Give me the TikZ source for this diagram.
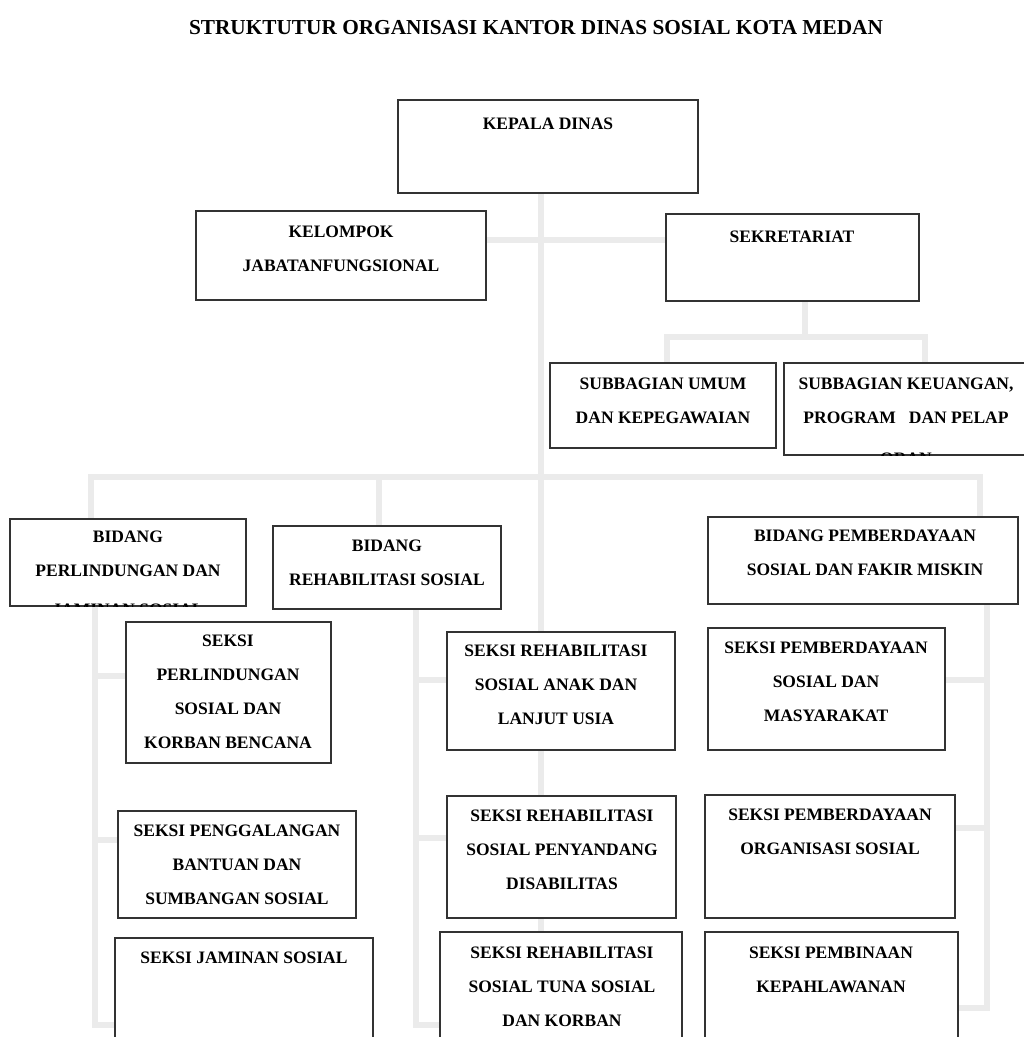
\documentclass[tikz,border=0pt]{standalone}
\usepackage{fontspec}
\setmainfont{Liberation Serif}
\usetikzlibrary{fit}
\pgfdeclarelayer{bg}
\pgfsetlayers{bg,main}
\definecolor{lnk}{HTML}{EBEBEB}
\definecolor{bx}{HTML}{333333}
\begin{document}
\begin{tikzpicture}[x=1pt,y=-1pt,
  box/.style={draw=bx, line width=1.4pt, fill=white, inner sep=0pt},
  txt/.style={font=\bfseries\fontsize{17.5}{34}\selectfont, align=center, inner sep=0pt},
  link/.style={draw=lnk, line width=5.5pt}]
\useasboundingbox (0,0) rectangle (1024,1037);
\clip (0,0) rectangle (1024,1037);

\node[font=\bfseries\fontsize{21.3}{24}\selectfont, inner sep=0pt] (title) at (536,28) {STRUKTUTUR ORGANISASI KANTOR DINAS SOSIAL KOTA MEDAN};

% boxes
\node[box, fit={(398,100) (698,193)}] (kd) {};
\node[box, fit={(196,211) (486,300)}] (kel) {};
\node[box, fit={(666,214) (919,301)}] (sek) {};
\node[box, fit={(550,363) (776,448)}] (sub1) {};
\node[box, fit={(784,363) (1034,455)}] (sub2) {};
\node[box, fit={(10,519) (246,606)}] (bp) {};
\node[box, fit={(273,526) (501,609)}] (br) {};
\node[box, fit={(708,517) (1018,604)}] (bpm) {};
\node[box, fit={(126,622) (331,763)}] (sp1) {};
\node[box, fit={(118,811) (356,918)}] (sp2) {};
\node[box, fit={(115,938) (373,1050)}] (sp3) {};
\node[box, fit={(447,632) (675,750)}] (sr1) {};
\node[box, fit={(447,796) (676,918)}] (sr2) {};
\node[box, fit={(440,932) (682,1050)}] (sr3) {};
\node[box, fit={(708,628) (945,750)}] (sm1) {};
\node[box, fit={(705,795) (955,918)}] (sm2) {};
\node[box, fit={(705,932) (958,1050)}] (sm3) {};

% texts
\node[txt] (tkd) at (548,124) {KEPALA DINAS};
\node[txt] (tkel) at (341,248.5) {KELOMPOK\\JABATANFUNGSIONAL};
\node[txt] (tsek) at (792,237) {SEKRETARIAT};
\node[txt] (tsub1) at (663,400.5) {SUBBAGIAN UMUM\\DAN KEPEGAWAIAN};
\node[txt] (tsub2) at (906,400.5) {SUBBAGIAN KEUANGAN,\\PROGRAM\ \ \ DAN PELAP};
\begin{scope}
  \clip (sub2.north west) rectangle (sub2.south east);
  \node[txt] (tsub2b) at (906,459) {ORAN};
\end{scope}
\node[txt] (tbp) at (128,554) {BIDANG\\PERLINDUNGAN DAN};
\begin{scope}
  \clip (bp.north west) rectangle (bp.south east);
  \node[txt] (tbpb) at (128,610) {JAMINAN SOSIAL};
\end{scope}
\node[txt] (tbr) at (387,562.5) {BIDANG\\REHABILITASI SOSIAL};
\node[txt] (tbpm) at (865,553) {BIDANG PEMBERDAYAAN\\SOSIAL DAN FAKIR MISKIN};
\node[txt] (tsp1) at (228,691.5) {SEKSI\\PERLINDUNGAN\\SOSIAL DAN\\KORBAN BENCANA};
\node[txt] (tsp2) at (237,864.5) {SEKSI PENGGALANGAN\\BANTUAN DAN\\SUMBANGAN SOSIAL};
\node[txt] (tsp3) at (244,958) {SEKSI JAMINAN SOSIAL};
\node[txt] (tsr1) at (556,685) {SEKSI REHABILITASI\\SOSIAL ANAK DAN\\LANJUT USIA};
\node[txt] (tsr2) at (562,849.5) {SEKSI REHABILITASI\\SOSIAL PENYANDANG\\DISABILITAS};
\node[txt] (tsr3) at (562,986.5) {SEKSI REHABILITASI\\SOSIAL TUNA SOSIAL\\DAN KORBAN};
\node[txt] (tsm1) at (826,682) {SEKSI PEMBERDAYAAN\\SOSIAL DAN\\MASYARAKAT};
\node[txt] (tsm2) at (830,831.5) {SEKSI PEMBERDAYAAN\\ORGANISASI SOSIAL};
\node[txt] (tsm3) at (831,969.5) {SEKSI PEMBINAAN\\KEPAHLAWANAN};

% connector coordinates
\coordinate (spine) at (541,1045);
\coordinate (j1) at (0,240);
\coordinate (s1) at (805,337);
\coordinate (s1a) at (667,337);
\coordinate (s1b) at (925,337);
\coordinate (m1) at (91,477);
\coordinate (m2) at (379,477);
\coordinate (m3) at (980,477);
\coordinate (l1) at (95,676);
\coordinate (l2) at (95,840);
\coordinate (l3) at (95,1025);
\coordinate (c1) at (416,680);
\coordinate (c2) at (416,838);
\coordinate (c3) at (416,1025);
\coordinate (r1) at (987,680);
\coordinate (r2) at (987,828);
\coordinate (r3) at (987,1008);

\begin{pgfonlayer}{bg}
  \draw[link] (kd.south -| spine) -- (spine);
  \draw[link] (kel.east |- j1) -- (sek.west |- j1);
  \draw[link] (sek.south -| s1) -- (s1);
  \draw[link] (sub1.north -| s1a) -- (s1a) -- (s1b) -- (sub2.north -| s1b);
  \draw[link] (bp.north -| m1) -- (m1) -- (m3) -- (bpm.north -| m3);
  \draw[link] (br.north -| m2) -- (m2);
  \draw[link] (bp.south -| l1) -- (l3) -- (sp3.west |- l3);
  \draw[link] (l1) -- (sp1.west |- l1);
  \draw[link] (l2) -- (sp2.west |- l2);
  \draw[link] (br.south -| c1) -- (c3) -- (sr3.west |- c3);
  \draw[link] (c1) -- (sr1.west |- c1);
  \draw[link] (c2) -- (sr2.west |- c2);
  \draw[link] (bpm.south -| r1) -- (r3) -- (sm3.east |- r3);
  \draw[link] (r1) -- (sm1.east |- r1);
  \draw[link] (r2) -- (sm2.east |- r2);
\end{pgfonlayer}
\end{tikzpicture}
\end{document}
